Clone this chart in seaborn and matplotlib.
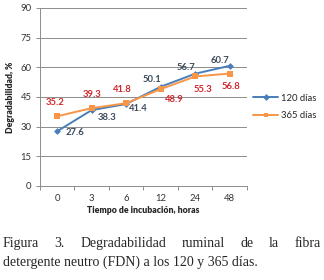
import pandas as pd
import seaborn as sns
import matplotlib.pyplot as plt

horas = ['0', '3', '6', '12', '24', '48']
dias_120 = [27.6, 38.3, 41.4, 50.1, 56.7, 60.7]
dias_365 = [35.2, 39.3, 41.8, 48.9, 55.3, 56.8]
series = ['120 días', '365 días']

df = pd.DataFrame({
    'hora': horas * 2,
    'valor': dias_120 + dias_365,
    'serie': [series[0]] * 6 + [series[1]] * 6,
})

sns.set_style('white')
plt.rcParams['font.family'] = ['Lato', 'DejaVu Sans']

fig = plt.figure(figsize=(3.24, 2.8), dpi=100)
ax = fig.add_axes([0.123, 0.336, 0.639, 0.636])

azul = '#4a7ebb'
naranja = '#f79646'
sns.lineplot(data=df, x='hora', y='valor', hue='serie', style='serie',
             palette=[azul, naranja], markers=['D', 's'], dashes=False,
             markersize=3.5, markeredgewidth=0, linewidth=1.4, ax=ax,
             sort=False)
for ln in ax.lines[1:2]:
    ln.set_markersize(4.2)

# etiquetas de datos (offset en pixeles)
off_120 = [(18, -1), (15, -7), (12, -4), (-9, 7), (-9, 6), (-10, 5)]
off_365 = [(-2, 14), (0, 14), (-4, 14), (14, -10), (8, -13), (1, -13)]
for i, (v, o) in enumerate(zip(dias_120, off_120)):
    ax.annotate(f'{v:.1f}', (i, v), xytext=o, textcoords='offset pixels',
                ha='center', va='center', fontsize=6.8, fontweight='bold',
                color='#3d4b5c')
for i, (v, o) in enumerate(zip(dias_365, off_365)):
    ax.annotate(f'{v:.1f}', (i, v), xytext=o, textcoords='offset pixels',
                ha='center', va='center', fontsize=6.8, fontweight='bold',
                color='#d0282e')

ax.set_ylim(0, 90)
ax.set_yticks(range(0, 91, 15))
ax.set_xlim(-0.5, 5.5)
ax.set_xticks(range(6))
ax.set_xticklabels(horas)
ax.set_xticks([x - 0.5 for x in range(7)], minor=True)
ax.yaxis.grid(True, color='#8c8c8c', linewidth=0.7)
ax.xaxis.grid(False)
for s in ['top', 'right']:
    ax.spines[s].set_visible(False)
for s in ['left', 'bottom']:
    ax.spines[s].set_color('#8c8c8c')
    ax.spines[s].set_linewidth(0.7)
ax.tick_params(axis='y', which='major', length=3, width=0.7, color='#8c8c8c',
               labelsize=6.8, labelcolor='#333333', pad=3, left=True)
ax.tick_params(axis='x', which='major', length=0, labelsize=6.8,
               labelcolor='#333333', pad=6)
ax.tick_params(axis='x', which='minor', length=3, width=0.7, color='#8c8c8c',
               bottom=True)
ax.set_ylabel('Degradabilidad, %', fontsize=6.2, fontweight='heavy',
              labelpad=4)
ax.set_xlabel('Tiempo de incubación, horas', fontsize=6.2, fontweight='heavy',
              labelpad=2)

ax.legend(loc='center left', bbox_to_anchor=(0.77, 0.618),
          bbox_transform=fig.transFigure, frameon=False, fontsize=6.8,
          handlelength=2.6, handletextpad=0.3, labelspacing=0.9,
          borderaxespad=0)

# pie de figura (primera linea justificada)
palabras = ['Figura', '3.', 'Degradabilidad', 'ruminal', 'de', 'la', 'fibra']
renderer = fig.canvas.get_renderer()
textos = [fig.text(0, 0.132, p, family=['Liberation Serif'], fontsize=10,
                   ha='left', va='center') for p in palabras]
anchos = [t.get_window_extent(renderer).width for t in textos]
x0, x1 = 3, 321
hueco = (x1 - x0 - sum(anchos)) / (len(palabras) - 1)
xp = x0
for t, w in zip(textos, anchos):
    t.set_x(xp / 324)
    xp += w + hueco
fig.text(3 / 324, 0.063, 'detergente neutro (FDN) a los 120 y 365 días.',
         family=['Liberation Serif'], fontsize=10, ha='left', va='center')

fig.savefig('out.png', dpi=100)
